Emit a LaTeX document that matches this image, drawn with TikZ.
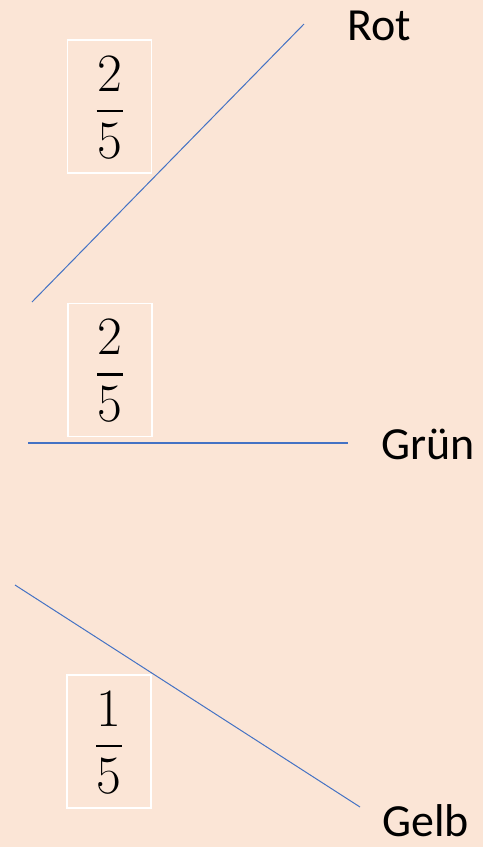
\documentclass[tikz,border=0pt]{standalone}
\usepackage{fontspec}
\newfontfamily\labelfont{Carlito}
\definecolor{bgpeach}{HTML}{FBE5D6}
\definecolor{branchblue}{HTML}{4472C4}
\tikzset{
  probbox/.style={draw=white, line width=1.5pt, minimum width=84pt, minimum height=133pt, inner sep=0pt},
  digit/.style={inner sep=0pt, font=\fontsize{54}{60}\selectfont},
  fracbar/.style={line width=2.5pt},
  outcome/.style={anchor=base west, inner sep=0pt, font=\labelfont\fontsize{46}{52}\selectfont},
  branch/.style={draw=branchblue, line width=1pt}
}
% a fraction drawn inside a box: numerator, bar, denominator
\newcommand\boxfrac[3]{%
  \node[digit] (#1num) at ([yshift=33pt]#1.center) {#2};
  \node[digit] (#1den) at ([yshift=-34.5pt]#1.center) {#3};
  \draw[fracbar] ([xshift=-13pt,yshift=-4.5pt]#1.center) -- ([xshift=13pt,yshift=-4.5pt]#1.center);
}
\begin{document}
\begin{tikzpicture}[x=1pt,y=-1pt]
  % page background
  \fill[bgpeach] (0,0) rectangle (483,847);
  \useasboundingbox (0,0) rectangle (483,847);

  % branch end points
  \coordinate (r0) at (32,302);
  \coordinate (r1) at (304,24);
  \coordinate (g0) at (28,443);
  \coordinate (g1) at (348,443);
  \coordinate (y0) at (15,585);
  \coordinate (y1) at (360,807);

  % branches
  \draw[branch] (r0) -- (r1);
  \draw[branch, line width=1.4pt] (g0) -- (g1);
  \draw[branch] (y0) -- (y1);

  % probability boxes
  \node[probbox] (pr) at (109.5,106.5) {};
  \node[probbox] (pg) at (110,370) {};
  \node[probbox] (py) at (109,741.5) {};
  \boxfrac{pr}{2}{5}
  \boxfrac{pg}{2}{5}
  \boxfrac{py}{1}{5}

  % outcome labels
  \node[outcome] (rot) at (347,40) {Rot};
  \node[outcome] (gruen) at (381,459) {Grün};
  \node[outcome] (gelb) at (382,836) {Gelb};
\end{tikzpicture}
\end{document}
